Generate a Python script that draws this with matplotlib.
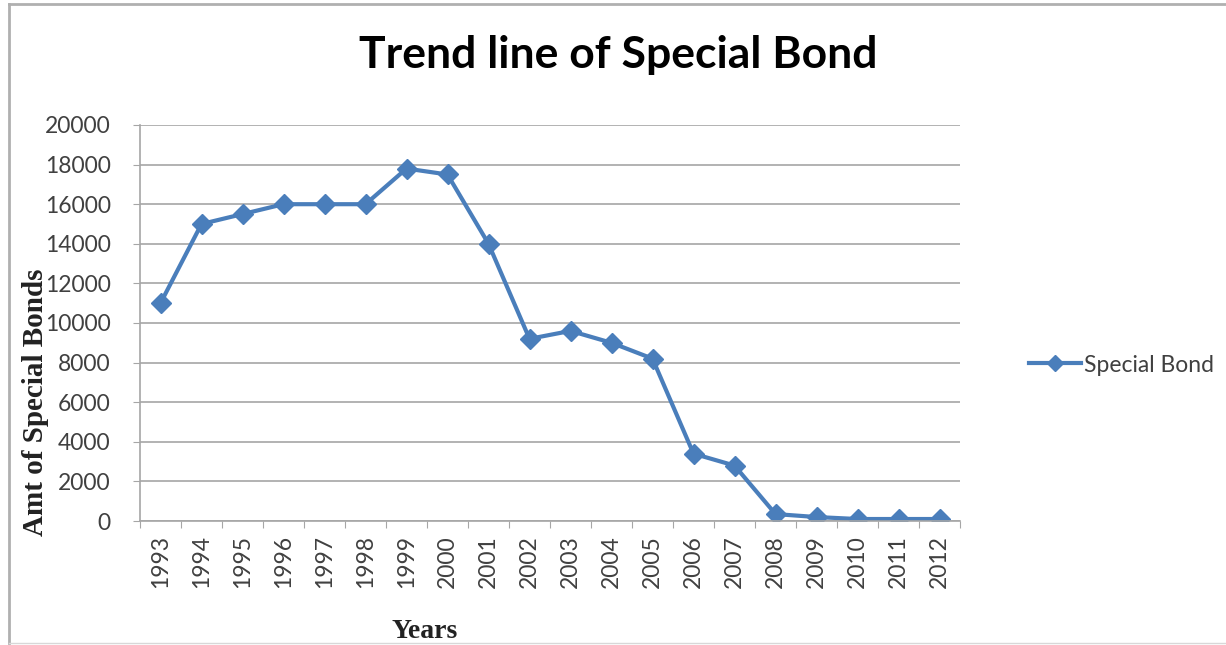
import matplotlib.pyplot as plt
from matplotlib.lines import Line2D

years = ['1993', '1994', '1995', '1996', '1997', '1998', '1999', '2000', '2001', '2002',
         '2003', '2004', '2005', '2006', '2007', '2008', '2009', '2010', '2011', '2012']
special_bond = [11000, 15000, 15500, 16000, 16000, 16000, 17800, 17500, 14000, 9200,
                9600, 9000, 8200, 3400, 2800, 350, 200, 100, 100, 100]
y_ticks = [0, 2000, 4000, 6000, 8000, 10000, 12000, 14000, 16000, 18000, 20000]

blue = '#4a7ebb'
grid_gray = '#a6a6a6'
text_gray = '#404040'

fig = plt.figure(figsize=(12.26, 6.45), dpi=100)
ax = fig.add_axes([140 / 1226, 1 - 521 / 645, 820 / 1226, 396 / 645])

x = [i + 0.5 for i in range(len(years))]
ax.plot(x, special_bond, color=blue, lw=3.0, marker='D', markersize=10,
        markerfacecolor=blue, markeredgecolor=blue)

ax.set_xlim(0, len(years))
ax.set_ylim(0, 20000)
ax.set_yticks(y_ticks)
ax.set_yticklabels([str(v) for v in y_ticks], fontfamily='Lato', fontsize=16.5, color=text_gray)
ax.set_xticks(range(len(years) + 1))
ax.set_xticklabels([])
ax.set_xticks(x, minor=True)
ax.set_xticklabels(years, minor=True, rotation=90, fontfamily='Lato', fontsize=16.5, color=text_gray)
ax.tick_params(axis='x', which='minor', length=0, pad=10)
ax.tick_params(axis='x', which='major', length=5, color=grid_gray, direction='out')
ax.tick_params(axis='y', length=5, color=grid_gray, direction='out', pad=16)

ax.grid(axis='y', color=grid_gray, lw=1.2)
ax.set_axisbelow(True)
for side in ['top', 'right']:
    ax.spines[side].set_visible(False)
for side in ['left', 'bottom']:
    ax.spines[side].set_color(grid_gray)
    ax.spines[side].set_linewidth(1.2)

fig.text(618 / 1226, 1 - 55 / 645, 'Trend line of Special Bond', ha='center', va='center',
         fontfamily='Lato', fontweight='bold', fontsize=32, color='black')
fig.text(36 / 1226, 1 - 402 / 645, 'Amt of Special Bonds', rotation=90, ha='center', va='center',
         fontfamily='Liberation Serif', fontweight='bold', fontsize=21, color='#222222')
fig.text(425 / 1226, 1 - 631 / 645, 'Years', ha='center', va='center',
         fontfamily='Liberation Serif', fontweight='bold', fontsize=20, color='#222222')

handle = Line2D([], [], color=blue, lw=3.0, marker='D', markersize=8)
fig.legend([handle], ['Special Bond'], loc='center left', bbox_to_anchor=(1008 / 1226, 1 - 365 / 645),
           frameon=False, handlelength=2.3, handletextpad=0.1,
           prop={'family': 'Lato', 'size': 16.5}, labelcolor=text_gray)

# outer chart frame
fig.add_artist(Line2D([9 / 1226, 9 / 1226], [1 - 643 / 645, 1 - 4 / 645], color='#b0b0b0', lw=2))
fig.add_artist(Line2D([9 / 1226, 1], [1 - 4 / 645, 1 - 4 / 645], color='#b0b0b0', lw=2))
fig.add_artist(Line2D([9 / 1226, 1], [1 - 643 / 645, 1 - 643 / 645], color='#d8d8d8', lw=1))

fig.savefig('out.png', dpi=100)
